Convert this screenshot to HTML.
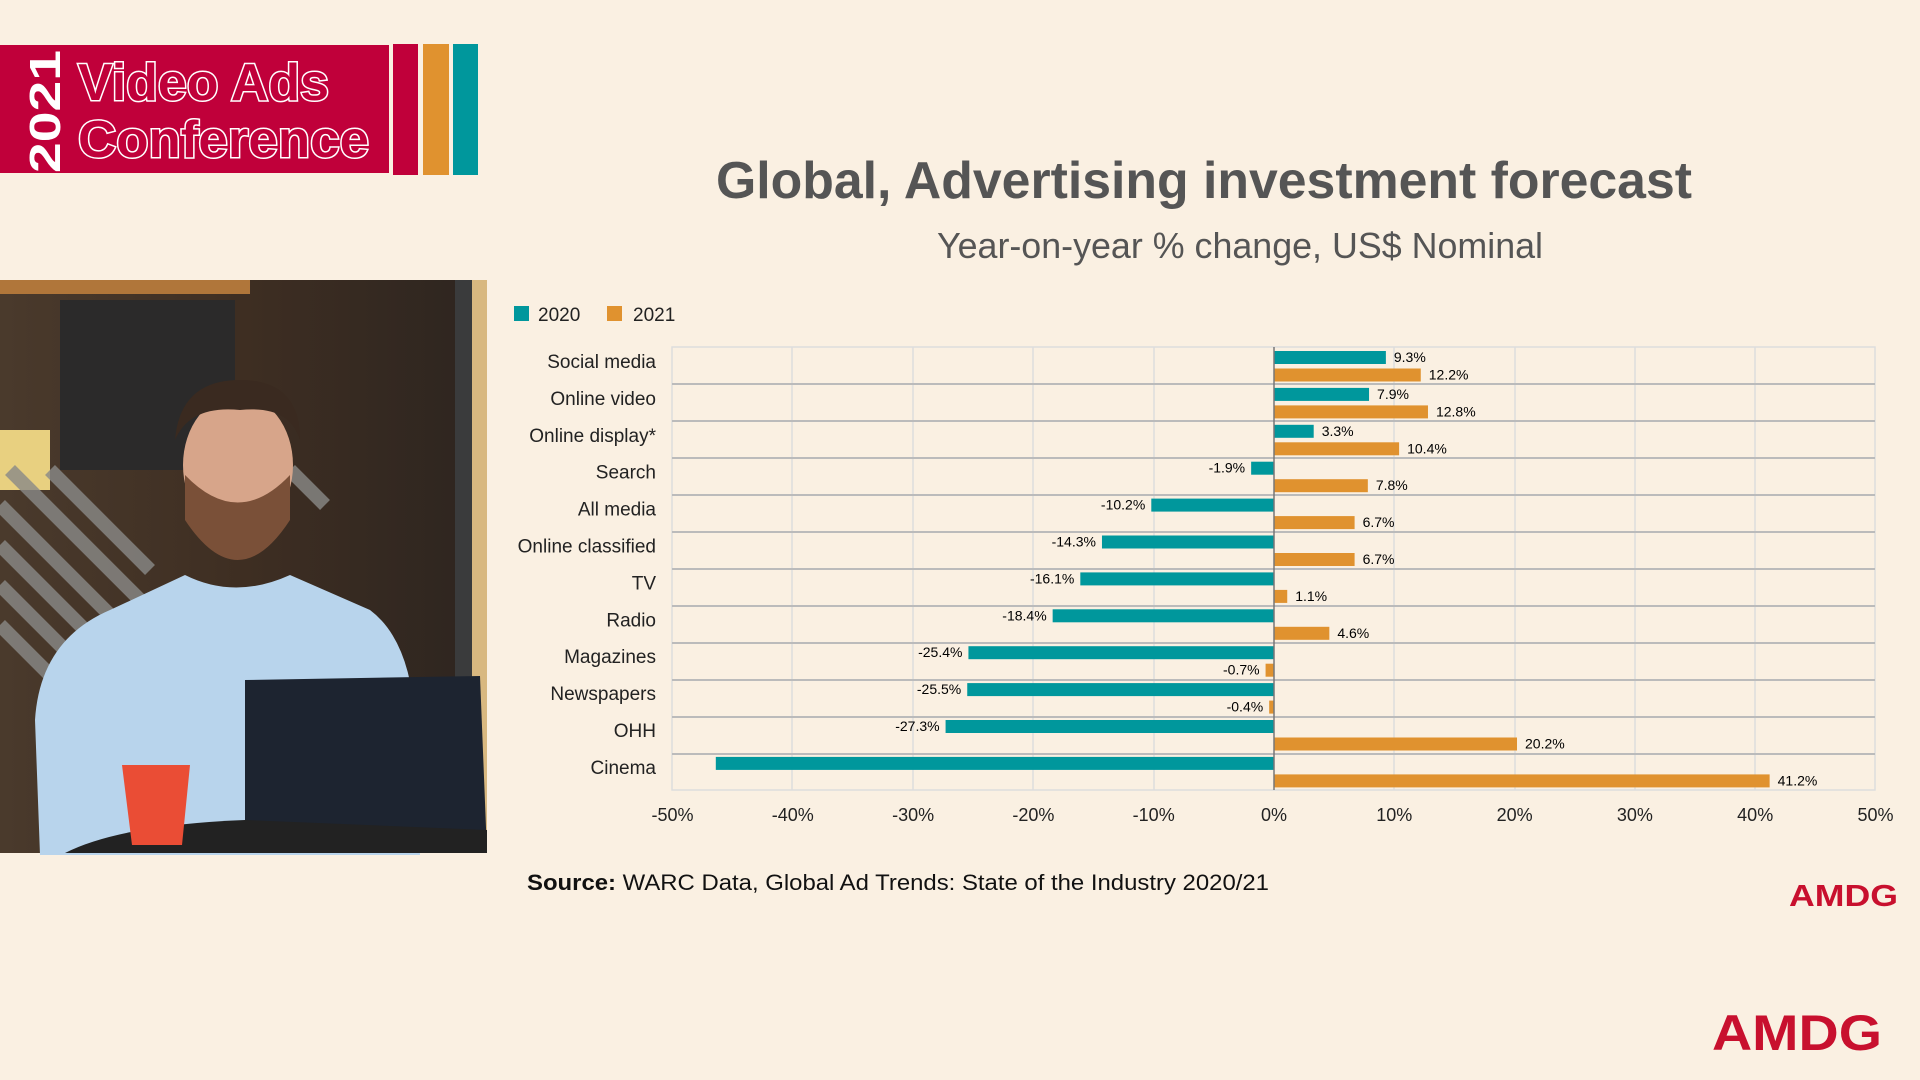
<!DOCTYPE html>
<html><head><meta charset="utf-8"><style>
html,body{margin:0;padding:0;background:#faf0e2;}
svg{display:block;}
</style></head><body>
<svg width="1920" height="1080" viewBox="0 0 1920 1080" xmlns="http://www.w3.org/2000/svg" font-family="Liberation Sans, Arial, sans-serif">
<rect width="1920" height="1080" fill="#faf0e2"/>
<!-- Logo -->
<rect x="0" y="45" width="389" height="128" fill="#c0003a"/>
<text transform="translate(60,173) rotate(-90)" font-size="44" font-weight="bold" fill="#fff" textLength="123" lengthAdjust="spacingAndGlyphs">2021</text>
<g font-size="52" font-weight="bold" fill="#c0003a" stroke="#fff" stroke-width="3" paint-order="stroke">
<text x="78" y="100" textLength="251" lengthAdjust="spacingAndGlyphs">Video Ads</text>
<text x="78" y="157" textLength="291" lengthAdjust="spacingAndGlyphs">Conference</text>
</g>
<rect x="393" y="44" width="25" height="131" fill="#c0003a"/>
<rect x="423" y="44" width="26" height="131" fill="#e0922f"/>
<rect x="453" y="44" width="25" height="131" fill="#00979c"/>
<!-- Photo -->
<defs>
<linearGradient id="bg" x1="0" y1="0" x2="1" y2="0"><stop offset="0" stop-color="#4a3a2c"/><stop offset="0.5" stop-color="#3e2e22"/><stop offset="1" stop-color="#2d2520"/></linearGradient>
</defs>
<rect x="0" y="280" width="487" height="573" fill="url(#bg)"/>
<rect x="0" y="280" width="250" height="14" fill="#b0763a"/>
<rect x="60" y="300" width="175" height="170" fill="#2b2a2a"/>
<rect x="0" y="430" width="50" height="60" fill="#e8d080"/>
<rect x="455" y="280" width="17" height="573" fill="#3a3b3c"/>
<rect x="472" y="280" width="15" height="573" fill="#d8b880"/>
<g stroke="#8a8a88" stroke-width="14" opacity="0.8">
<line x1="0" y1="505" x2="140" y2="645"/><line x1="0" y1="545" x2="120" y2="665"/><line x1="0" y1="585" x2="100" y2="685"/><line x1="0" y1="625" x2="60" y2="685"/><line x1="10" y1="470" x2="150" y2="610"/><line x1="50" y1="470" x2="150" y2="570"/><line x1="290" y1="470" x2="325" y2="505"/>
</g>
<path d="M40 855 L35 720 Q40 640 110 610 L185 575 Q235 600 290 575 L370 610 Q410 640 415 720 L420 855 Z" fill="#b8d4ec"/>
<ellipse cx="238" cy="465" rx="55" ry="70" fill="#d7a58a"/>
<path d="M185 520 Q238 600 290 520 L290 475 Q238 530 185 475 Z" fill="#7a5038"/>
<path d="M175 440 Q180 380 240 380 Q300 380 300 440 Q290 405 240 410 Q190 405 175 440 Z" fill="#3a2a20"/>
<path d="M245 680 L480 676 L487 853 L245 853 Z" fill="#1d2430"/>
<path d="M65 853 Q120 825 245 820 L487 830 L487 853 Z" fill="#222"/>
<path d="M122 765 L190 765 L182 845 L132 845 Z" fill="#ea4d35"/>
<!-- Title -->
<text x="716" y="198" font-size="52" font-weight="bold" fill="#555" textLength="976" lengthAdjust="spacingAndGlyphs">Global, Advertising investment forecast</text>
<text x="937" y="258" font-size="36" fill="#555" textLength="606" lengthAdjust="spacingAndGlyphs">Year-on-year % change, US$ Nominal</text>
<!-- Legend -->
<rect x="514" y="306" width="15" height="15" fill="#00979c"/>
<text x="538" y="321" font-size="19" fill="#222">2020</text>
<rect x="607" y="306" width="15" height="15" fill="#e0922f"/>
<text x="633" y="321" font-size="19" fill="#222">2021</text>
<!-- Plot -->
<rect x="672" y="347" width="1203" height="443" fill="none" stroke="#ddd" stroke-width="1.5"/>
<g stroke="#ddd" stroke-width="1.5">
<line x1="792" y1="347" x2="792" y2="790"/><line x1="913" y1="347" x2="913" y2="790"/><line x1="1033" y1="347" x2="1033" y2="790"/><line x1="1154" y1="347" x2="1154" y2="790"/><line x1="1394" y1="347" x2="1394" y2="790"/><line x1="1515" y1="347" x2="1515" y2="790"/><line x1="1635" y1="347" x2="1635" y2="790"/><line x1="1755" y1="347" x2="1755" y2="790"/>
</g>
<g stroke="#bbb" stroke-width="2">
<line x1="672" y1="384" x2="1875" y2="384"/><line x1="672" y1="421" x2="1875" y2="421"/><line x1="672" y1="458" x2="1875" y2="458"/><line x1="672" y1="495" x2="1875" y2="495"/><line x1="672" y1="532" x2="1875" y2="532"/><line x1="672" y1="569" x2="1875" y2="569"/><line x1="672" y1="606" x2="1875" y2="606"/><line x1="672" y1="643" x2="1875" y2="643"/><line x1="672" y1="680" x2="1875" y2="680"/><line x1="672" y1="717" x2="1875" y2="717"/><line x1="672" y1="754" x2="1875" y2="754"/>
</g>
<g id="bars"></g>
<line x1="1274" y1="347" x2="1274" y2="790" stroke="#777" stroke-width="1.5"/>
<g id="labels" font-size="19" fill="#222" text-anchor="end"></g>
<g id="ticks" font-size="18" fill="#222" text-anchor="middle"></g>
<!-- Source -->
<text x="527" y="890" font-size="22" fill="#111" textLength="742" lengthAdjust="spacingAndGlyphs"><tspan font-weight="bold">Source:</tspan> WARC Data, Global Ad Trends: State of the Industry 2020/21</text>
<text x="1789" y="906" font-size="31" font-weight="bold" fill="#c8102e" textLength="109" lengthAdjust="spacingAndGlyphs">AMDG</text>
<text x="1712" y="1050" font-size="50" font-weight="bold" fill="#c8102e" textLength="170" lengthAdjust="spacingAndGlyphs">AMDG</text>
</svg>
<script>
var d=[["Social media",9.3,12.2],["Online video",7.9,12.8],["Online display*",3.3,10.4],["Search",-1.9,7.8],["All media",-10.2,6.7],["Online classified",-14.3,6.7],["TV",-16.1,1.1],["Radio",-18.4,4.6],["Magazines",-25.4,-0.7],["Newspapers",-25.5,-0.4],["OHH",-27.3,20.2],["Cinema",-46.4,41.2]];
var ns="http://www.w3.org/2000/svg",Z=1274,S=12.03,T=347,H=36.9;
function el(p,t,a,txt){var e=document.createElementNS(ns,t);for(var k in a)e.setAttribute(k,a[k]);if(txt!=null)e.textContent=txt;document.getElementById(p).appendChild(e);}
d.forEach(function(r,i){var y=T+i*H;
el("labels","text",{x:656,y:y+21},r[0]);
[[r[1],"#00979c",4],[r[2],"#e0922f",21.5]].forEach(function(b,j){var v=b[0],w=Math.abs(v)*S,x=v<0?Z-w:Z,by=y+b[2];
el("bars","rect",{x:x,y:by,width:w,height:13,fill:b[1]});
if(!(i==11&&j==0)){var o={y:by+11,"font-size":14,"text-anchor":v<0?"end":"start",x:v<0?x-6:x+w+8};
var lab=v.toFixed(1)+"%";el("bars","text",o,lab);}});
});
for(var k=-5;k<=5;k++)el("ticks","text",{x:Z+k*120.3,y:821},(k*10)+"%");
</script>
</body></html>
